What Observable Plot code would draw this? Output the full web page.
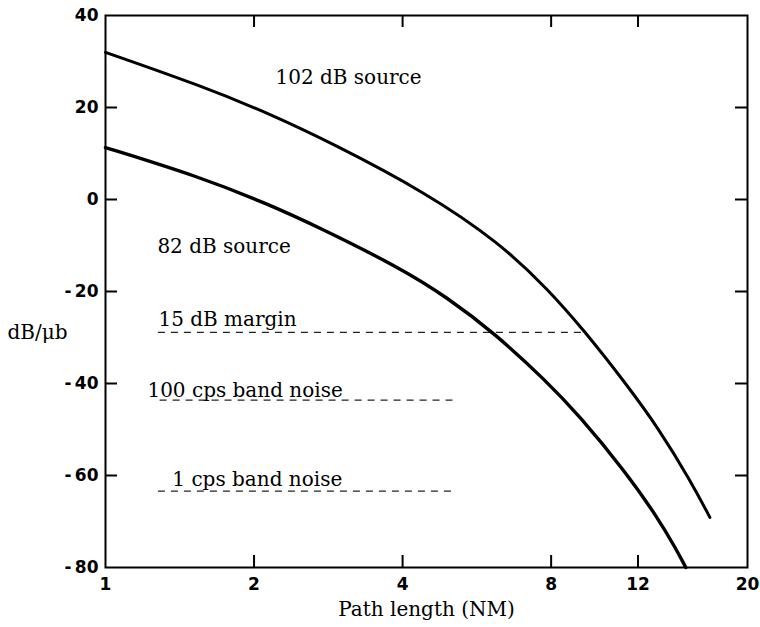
<!DOCTYPE html>
<html>
<head>
<meta charset="utf-8">
<script src="https://cdn.jsdelivr.net/npm/d3@7"></script>
<script src="https://cdn.jsdelivr.net/npm/@observablehq/plot@0.6"></script>
<style>
  html, body { margin: 0; padding: 0; background: #fff; overflow: hidden; }
</style>
</head>
<body>
<div id="chart"></div>
<script>
// Tick values
const xTicks = [1, 2, 4, 8, 12, 20];
const yTicks = [-80, -60, -40, -20, 0, 20, 40];
const xInnerTicks = [2, 4, 8, 12];
const yInnerTicks = [-60, -40, -20, 0, 20];

// 102 dB source curve
const upperX = [1, 1.555, 2.123, 2.884, 4.46, 6.27, 7.90, 9.30, 11.30, 13.18, 15.36, 16.78];
const upperY = [32.0, 24.8, 18.9, 12.2, 1.5, -9.3, -19.6, -28.3, -39.8, -49.6, -61.3, -69.1];

// 82 dB source curve
const lowerX = [1, 1.555, 2.123, 2.715, 3.94, 4.90, 6.18, 7.79, 9.09, 11.30, 13.18, 14.33, 15.0];
const lowerY = [11.3, 4.9, -0.9, -6.1, -14.8, -21.1, -29.3, -39.3, -46.8, -59.1, -69.3, -76.0, -80.0];

// Dashed reference levels
const dashY = [-28.9, -43.6, -63.4];
const dashX1 = [1.28, 1.29, 1.28];
const dashX2 = [9.36, 5.06, 5.03];

// Annotations
const labelText = ["102 dB source", "82 dB source", "15 dB margin", "100 cps band noise", "1 cps band noise"];
const labelX = [2.21, 1.274, 1.28, 1.216, 1.366];
const labelY = [26.5, -10.2, -26.1, -41.6, -60.9];

const upper = upperX.map((x, i) => ({x, y: upperY[i]}));
const lower = lowerX.map((x, i) => ({x, y: lowerY[i]}));
const dashes = dashY.map((y, i) => ({y, x1: dashX1[i], x2: dashX2[i]}));
const labels = labelText.map((t, i) => ({t, x: labelX[i], y: labelY[i]}));

const W = 760, H = 627;
const mL = 105, mR = 13, mT = 15, mB = 60;
const innerW = W - mL - mR, innerH = H - mT - mB;
const tickLen = 12;

const yFmt = d => d < 0 ? "-\u2009" + Math.abs(d) : String(d);

const chart = Plot.plot({
  width: W,
  height: H,
  marginLeft: mL,
  marginRight: mR,
  marginTop: mT,
  marginBottom: mB,
  style: {background: "#fff", color: "#000", overflow: "visible"},
  x: {type: "log", domain: [1, 20], axis: null},
  y: {domain: [-80, 40]},
  marks: [
    Plot.text(xTicks, {x: d => d, frameAnchor: "bottom", lineAnchor: "top", dy: 10, text: d => String(d),
      fontSize: 17, fontWeight: "bold", fontFamily: "DejaVu Sans", fill: "#000"}),
    Plot.axisY(yTicks, {tickSize: 0, tickPadding: 7, tickFormat: yFmt, label: null,
      fontSize: 17, fontWeight: "bold", fontFamily: "DejaVu Sans"}),
    Plot.tickX(xInnerTicks, {x: d => d, insetTop: innerH - tickLen, strokeWidth: 2}),
    Plot.tickX(xInnerTicks, {x: d => d, insetBottom: innerH - tickLen, strokeWidth: 2}),
    Plot.tickY(yInnerTicks, {y: d => d, insetRight: innerW - tickLen, strokeWidth: 2}),
    Plot.tickY(yInnerTicks, {y: d => d, insetLeft: innerW - tickLen, strokeWidth: 2}),
    Plot.ruleY(dashes, {y: "y", x1: "x1", x2: "x2", stroke: "#222", strokeWidth: 1.2, strokeDasharray: "7,6"}),
    Plot.line(upper, {x: "x", y: "y", curve: "basis", stroke: "#000", strokeWidth: 3}),
    Plot.line(lower, {x: "x", y: "y", curve: "basis", stroke: "#000", strokeWidth: 3.4}),
    Plot.text(labels, {x: "x", y: "y", text: "t", textAnchor: "start", fontFamily: "DejaVu Serif", fontSize: 20, fill: "#000"}),
    Plot.text(["dB/\u03bcb"], {frameAnchor: "left", y: () => -29, dx: -98, textAnchor: "start", fontFamily: "DejaVu Serif", fontSize: 20, fill: "#000"}),
    Plot.text(["Path length (NM)"], {frameAnchor: "bottom", dy: 48, fontFamily: "DejaVu Serif", fontSize: 20, fill: "#000"}),
    Plot.frame({stroke: "#000", strokeWidth: 2})
  ]
});
document.getElementById("chart").appendChild(chart);
</script>
</body>
</html>
